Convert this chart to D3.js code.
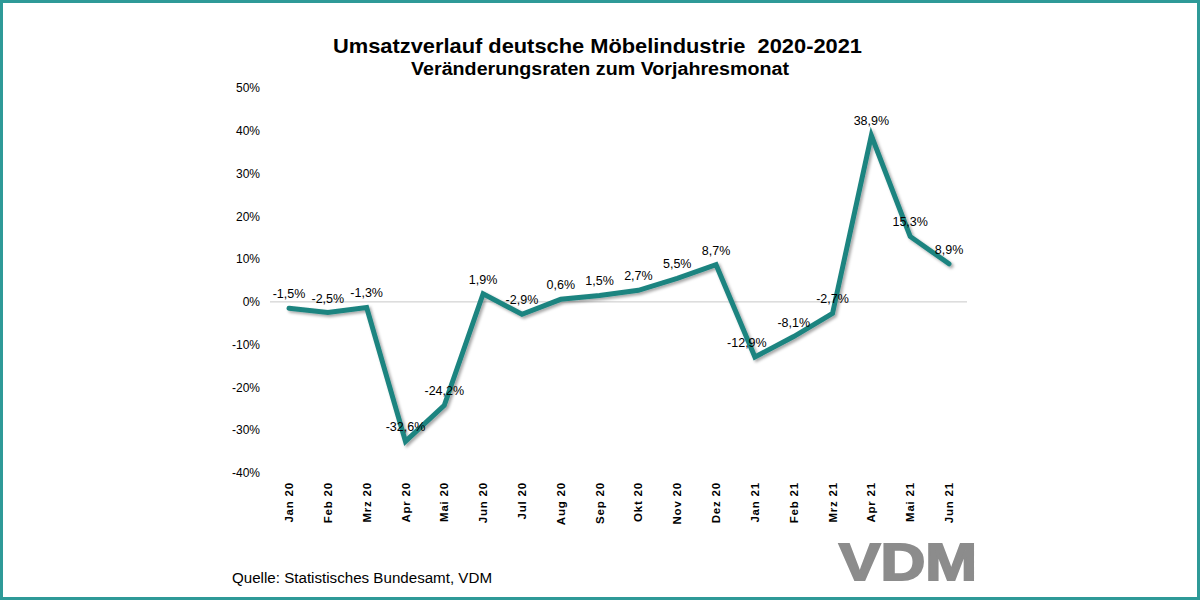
<!DOCTYPE html>
<html>
<head>
<meta charset="utf-8">
<script src="https://cdn.jsdelivr.net/npm/d3@7"></script>
<style>
  body { margin: 0; background: #fff; }
  svg { display: block; font-family: "Liberation Sans", Arial, sans-serif; }
</style>
</head>
<body>
<svg id="chart" width="1200" height="600"></svg>
<script>
// months and change rates (%)
var months = ["Jan 20", "Feb 20", "Mrz 20", "Apr 20", "Mai 20", "Jun 20", "Jul 20", "Aug 20", "Sep 20",
    "Okt 20", "Nov 20", "Dez 20", "Jan 21", "Feb 21", "Mrz 21", "Apr 21", "Mai 21", "Jun 21"];
var rates = [-1.5, -2.5, -1.3, -32.6, -24.2, 1.9, -2.9, 0.6, 1.5, 2.7, 5.5, 8.7, -12.9, -8.1, -2.7, 38.9, 15.3, 8.9];
var yTicks = [50, 40, 30, 20, 10, 0, -10, -20, -30, -40];

var svg = d3.select("#chart");

// frame
svg.append("rect")
    .attr("x", 1.5).attr("y", 1.5)
    .attr("width", 1197).attr("height", 597)
    .attr("fill", "#fff")
    .attr("stroke", "#2e9a98")
    .attr("stroke-width", 3);

// shadow for the line
var defs = svg.append("defs");
var f = defs.append("filter").attr("id", "shadow")
    .attr("x", "-5%").attr("y", "-5%").attr("width", "110%").attr("height", "110%");
f.append("feDropShadow")
    .attr("dx", 2).attr("dy", 2).attr("stdDeviation", 1.5)
    .attr("flood-color", "#000").attr("flood-opacity", 0.35);

// titles
svg.append("text")
    .attr("x", 333).attr("y", 53)
    .attr("xml:space", "preserve")
    .attr("font-size", 21).attr("font-weight", "bold")
    .attr("textLength", 529)
    .attr("lengthAdjust", "spacingAndGlyphs")
    .text("Umsatzverlauf deutsche Möbelindustrie  2020-2021");
svg.append("text")
    .attr("x", 411).attr("y", 75)
    .attr("font-size", 18).attr("font-weight", "bold")
    .attr("textLength", 378)
    .attr("lengthAdjust", "spacingAndGlyphs")
    .text("Veränderungsraten zum Vorjahresmonat");

// scales
var x = d3.scalePoint().domain(months).range([289, 949]);
var y = d3.scaleLinear().domain([-40, 50]).range([473, 88]);

// y axis labels (no line)
svg.append("g").selectAll("text")
    .data(yTicks)
    .join("text")
    .attr("x", 260)
    .attr("y", d => y(d))
    .attr("dy", "0.35em")
    .attr("text-anchor", "end")
    .attr("font-size", 12)
    .text(d => d + "%");

// zero line
svg.append("line")
    .attr("x1", 270).attr("x2", 967)
    .attr("y1", y(0)).attr("y2", y(0))
    .attr("stroke", "#c8c8c8").attr("stroke-width", 1);

// x labels, rotated
svg.append("g").selectAll("text")
    .data(months)
    .join("text")
    .attr("transform", d => "translate(" + x(d) + ",482) rotate(-90)")
    .attr("dy", "0.35em")
    .attr("text-anchor", "end")
    .attr("font-size", 11.5).attr("font-weight", "bold")
    .attr("letter-spacing", 0.8)
    .text(d => d);

// line
var line = d3.line()
    .x((d, i) => x(months[i]))
    .y(d => y(d));

svg.append("path")
    .datum(rates)
    .attr("d", line)
    .attr("fill", "none")
    .attr("stroke", "#1f8480")
    .attr("stroke-width", 5)
    .attr("stroke-linejoin", "miter")
    .attr("stroke-linecap", "round")
    .attr("filter", "url(#shadow)");

// data labels
var fmt = d => d.toFixed(1).replace(".", ",") + "%";
svg.append("g").selectAll("text")
    .data(rates)
    .join("text")
    .attr("x", (d, i) => x(months[i]) - (i === 12 ? 8 : 0))
    .attr("y", d => y(d) - 10)
    .attr("text-anchor", "middle")
    .attr("font-size", 12.5)
    .text(fmt);

// source
svg.append("text")
    .attr("x", 232).attr("y", 583)
    .attr("font-size", 14)
    .attr("textLength", 260)
    .attr("lengthAdjust", "spacingAndGlyphs")
    .text("Quelle: Statistisches Bundesamt, VDM");

// logo
svg.append("text")
    .attr("x", 839).attr("y", 580)
    .attr("font-size", 52).attr("font-weight", "bold")
    .attr("fill", "#8c8c8c")
    .attr("stroke", "#8c8c8c").attr("stroke-width", 2)
    .attr("textLength", 138)
    .attr("lengthAdjust", "spacingAndGlyphs")
    .text("VDM");
</script>
</body>
</html>
